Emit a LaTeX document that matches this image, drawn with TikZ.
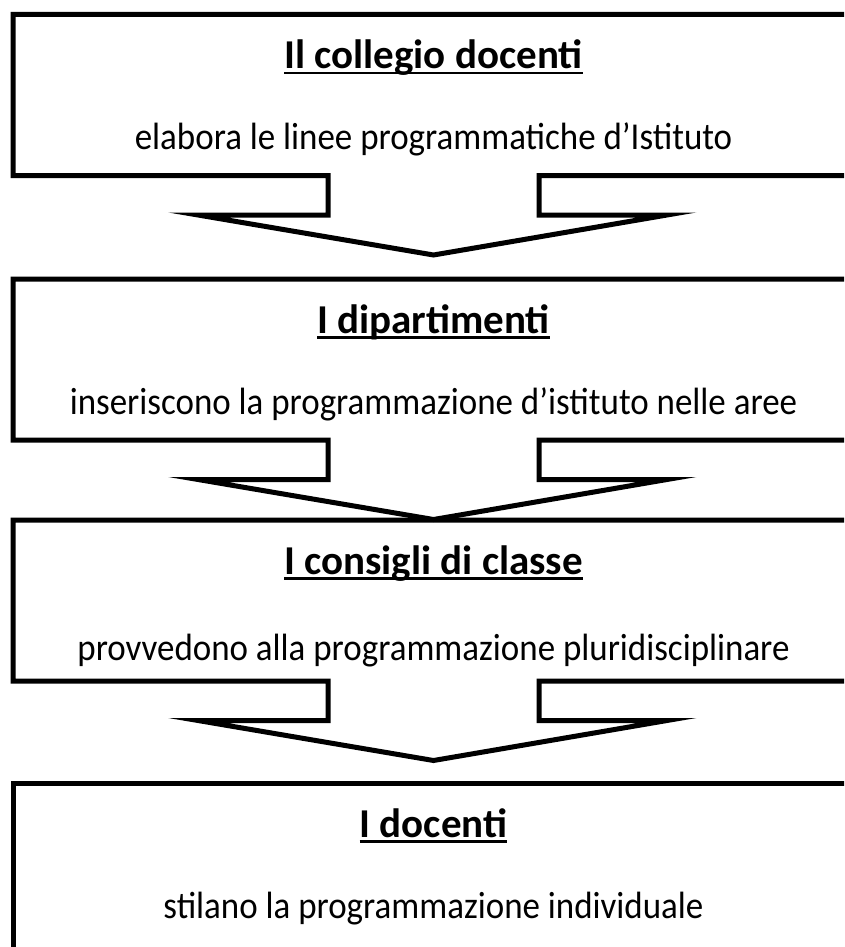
\documentclass[tikz,border=0pt]{standalone}
\usepackage{fontspec}
\setmainfont{Carlito}
\newcommand{\boxlinea}{black}
% underline at a fixed depth, through the descenders
\newcommand{\sott}[1]{\setbox0\hbox{#1}\rlap{\rule[-5.7pt]{\wd0}{2.3pt}}\box0}

% box with a down arrow below it, top edge at y = #1
\newcommand{\frecciabox}[1]{%
    \draw[callout] (13,#1) -- (854,#1) -- (854,#1+161) -- (539,#1+161)
        -- (539,#1+200.5) -- (667,#1+200.5) -- (433.5,#1+240.5)
        -- (198,#1+200.5) -- (328,#1+200.5) -- (328,#1+161)
        -- (13,#1+161) -- cycle;}

\begin{document}
\begin{tikzpicture}[x=1pt, y=-1pt,
        callout/.style = {draw=\boxlinea, line width=5pt, line join=miter, miter limit=20},
        titolo/.style = {anchor=base, inner sep=0pt, font=\fontsize{41}{48}\selectfont\bfseries},
        testo/.style = {anchor=base, inner sep=0pt, xscale=0.92, transform shape,
            font=\fontsize{38}{44}\selectfont}]
    \useasboundingbox (0,0) rectangle (844,947);
    \clip (0,0) rectangle (844,947);
    %\fill[white] (0,0) rectangle (844,947);
    \foreach \top in {14.5, 279, 520}{
        \frecciabox{\top}
    }
    \draw[callout] (13,783) rectangle (854,1000);
    % texts
    \node[titolo] (collegio) at (433.5,68.3) {\sott{Il collegio docenti}};
    \node[testo] (collegiotxt) at (433.5,149.5) {elabora le linee programmatiche d’Istituto};
    \node[titolo] (dipart) at (433.5,333) {\sott{I dipartimenti}};
    \node[testo] (dipartxt) at (433.5,414) {inseriscono la programmazione d’istituto nelle aree};
    \node[titolo] (consigli) at (433.5,574) {\sott{I consigli di classe}};
    \node[testo] (consiglitxt) at (433.5,660) {provvedono alla programmazione pluridisciplinare};
    \node[titolo] (docenti) at (433.5,837) {\sott{I docenti}};
    \node[testo] (docentitxt) at (433.5,918) {stilano la programmazione individuale};
\end{tikzpicture}
\end{document}
